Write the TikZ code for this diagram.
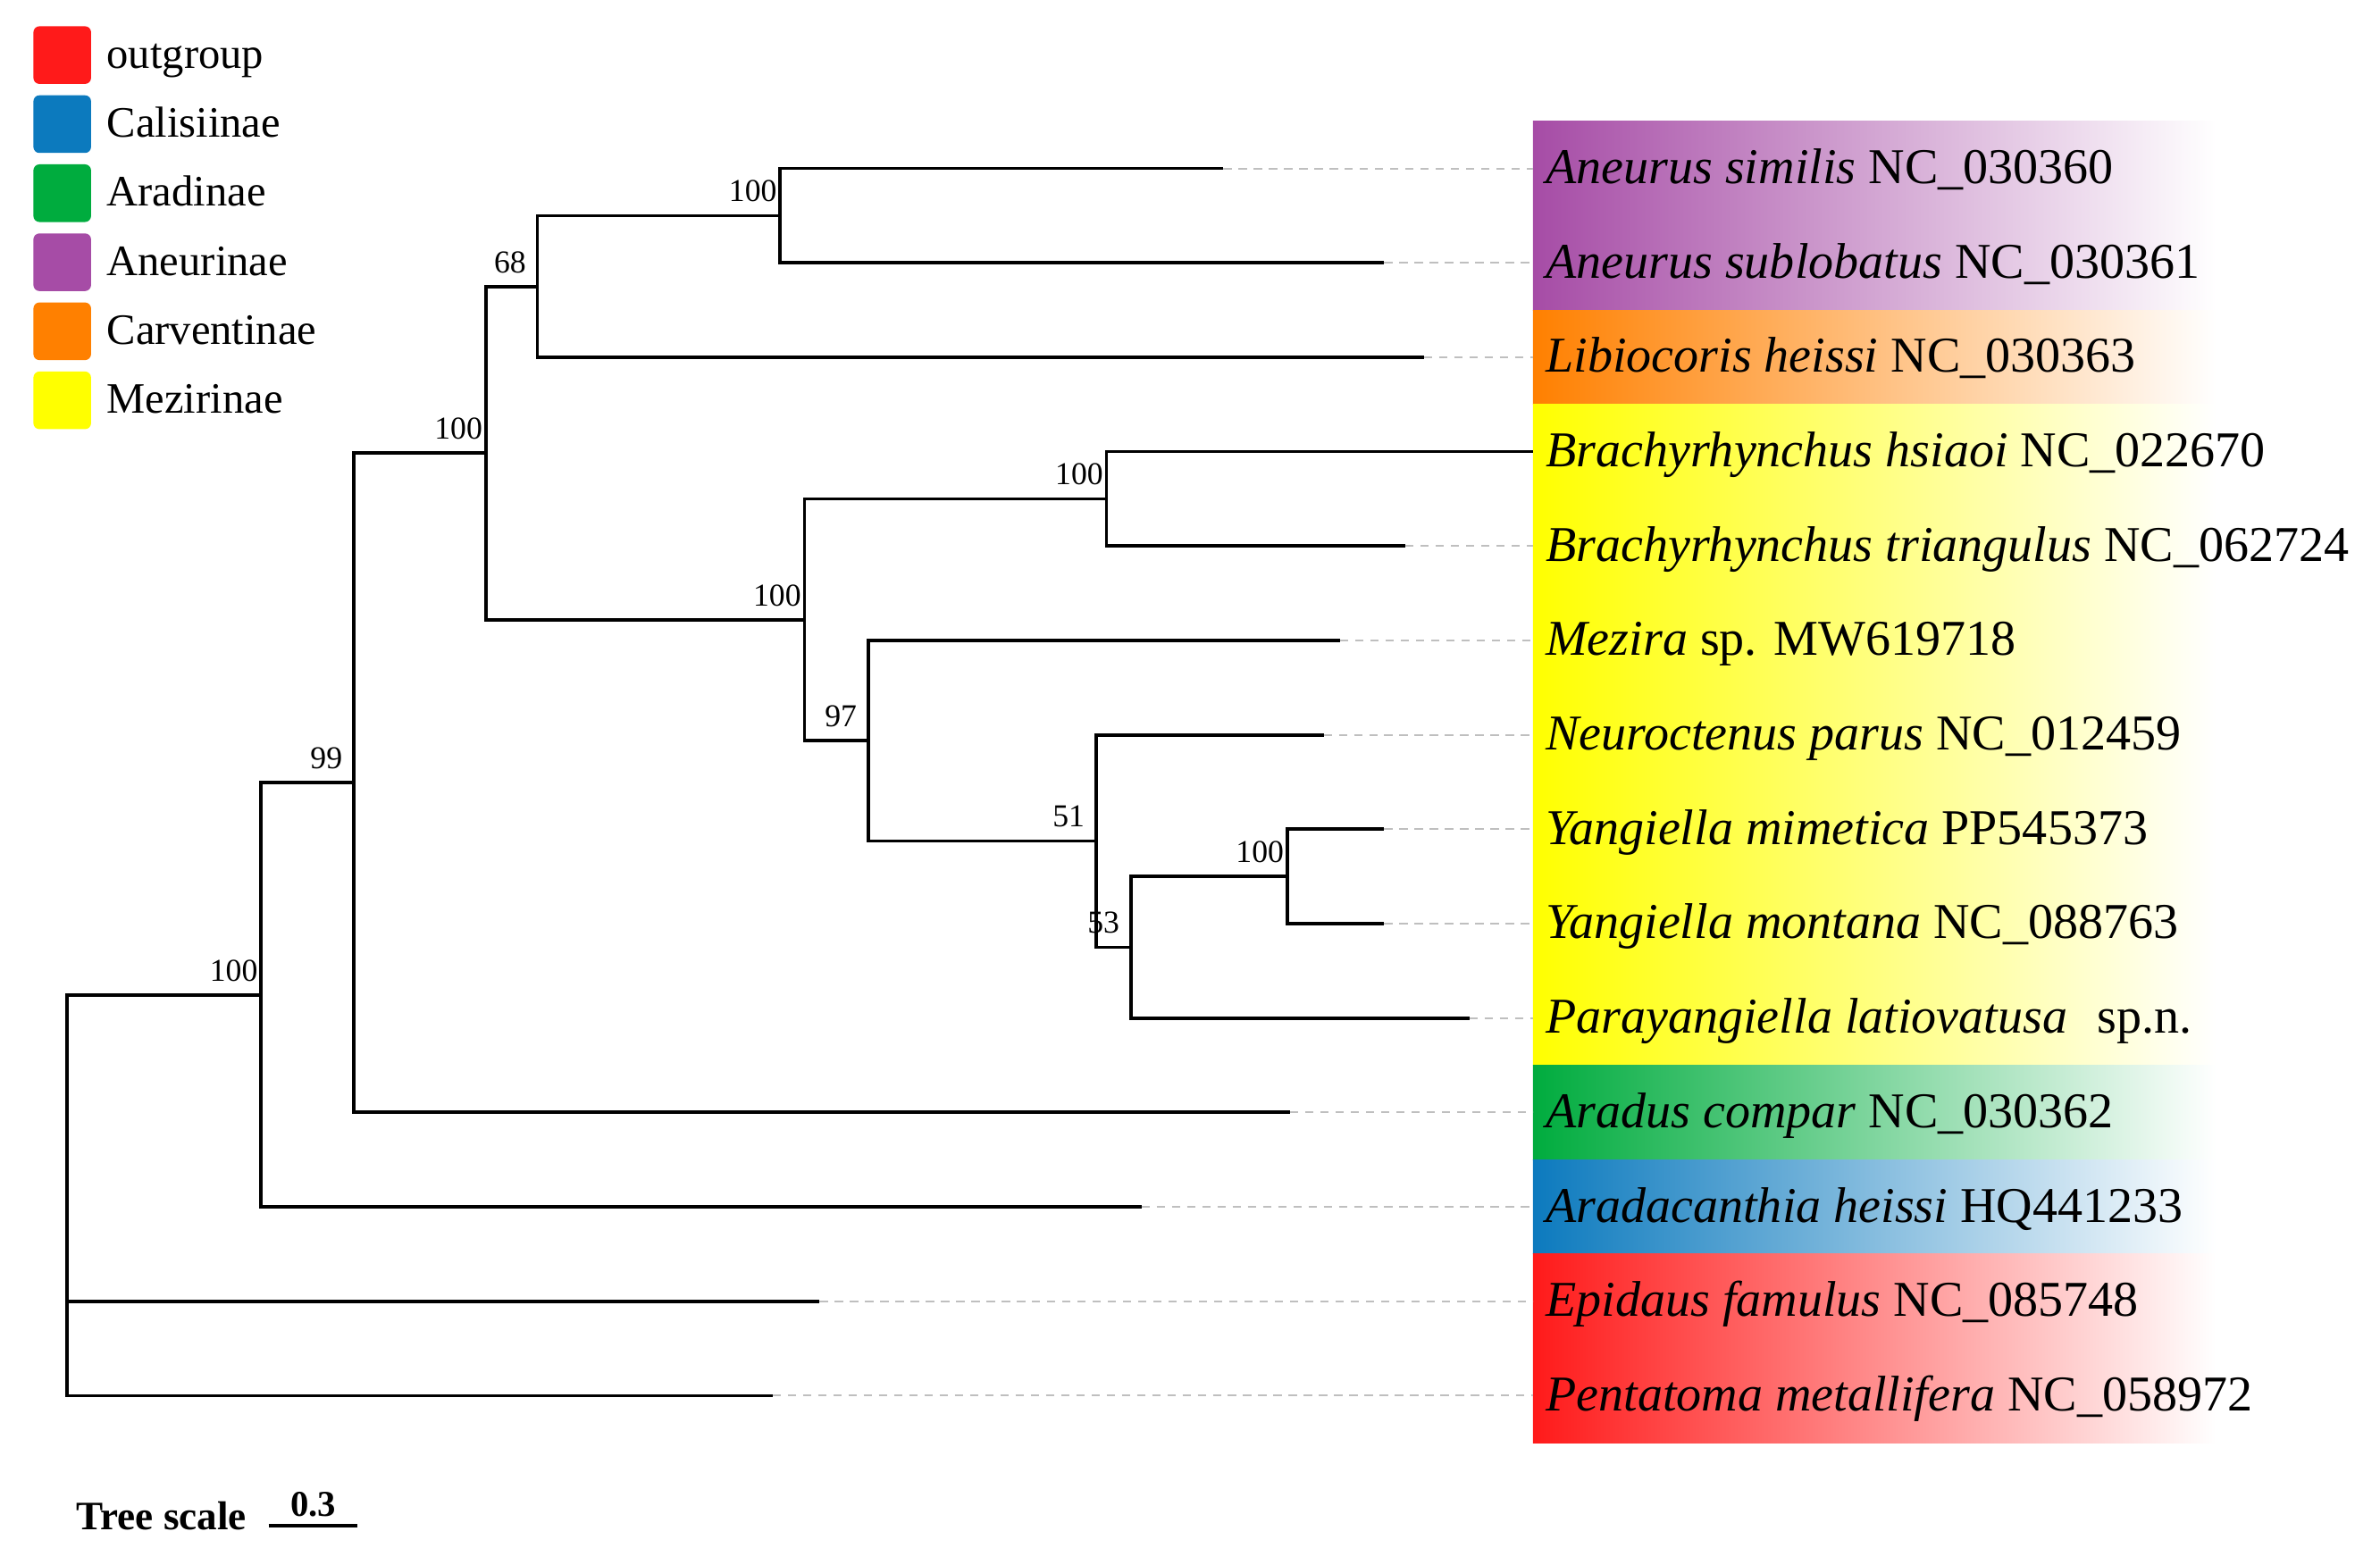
\documentclass[tikz,border=0pt]{standalone}
\usepackage{fontspec}
\setmainfont{Liberation Serif}
\usetikzlibrary{calc}
\definecolor{ogred}{RGB}{255,26,26}
\definecolor{calblue}{RGB}{12,122,190}
\definecolor{aragreen}{RGB}{0,172,62}
\definecolor{aneupurple}{RGB}{166,76,166}
\definecolor{carvorange}{RGB}{255,128,0}
\definecolor{mezyellow}{RGB}{255,255,0}
\begin{document}
\begin{tikzpicture}[x=0.5pt,y=-0.5pt,
  branch/.style={line width=1.1pt, line join=miter},
  leader/.style={draw=black!25, line width=0.55pt, dash pattern=on 2.7pt off 2.3pt},
  taxon/.style={anchor=base west, inner sep=0pt, font=\fontsize{16.5}{18}\selectfont},
  bs/.style={inner sep=0pt, font=\fontsize{10.5}{12}\selectfont},
  legsq/.style={rounded corners=2pt, minimum size=19pt, inner sep=0pt},
  legtext/.style={anchor=base west, inner sep=0pt, font=\fontsize{14.3}{16}\selectfont},
  band/.style={right color=white}
]
\useasboundingbox (0,0) rectangle (1568,1031);

% ---------- coloured bands ----------
\shade[left color=aneupurple, band] (1010,79.9) rectangle (1460,204.3);
\shade[left color=carvorange, band] (1010,204.3) rectangle (1460,266.5);
\shade[left color=mezyellow, band] (1010,266.5) rectangle (1460,701.9);
\shade[left color=aragreen, band] (1010,701.9) rectangle (1460,764.1);
\shade[left color=calblue, band] (1010,764.1) rectangle (1460,826.3);
\shade[left color=ogred, band] (1010,826.3) rectangle (1460,950.7);

% ---------- legend ----------
\node[legsq, fill=ogred] (sq1) at (41,36.3) {};
\node[legsq, fill=calblue] (sq2) at (41,81.8) {};
\node[legsq, fill=aragreen] (sq3) at (41,127.3) {};
\node[legsq, fill=aneupurple] (sq4) at (41,172.8) {};
\node[legsq, fill=carvorange] (sq5) at (41,218.3) {};
\node[legsq, fill=mezyellow] (sq6) at (41,263.8) {};
\node[legtext] (lt1) at (70,44.8) {outgroup};
\node[legtext] (lt2) at (70,90.3) {Calisiinae};
\node[legtext] (lt3) at (70,135.8) {Aradinae};
\node[legtext] (lt4) at (70,181.3) {Aneurinae};
\node[legtext] (lt5) at (70,226.8) {Carventinae};
\node[legtext] (lt6) at (70,272.3) {Mezirinae};

% ---------- tree coordinates ----------
\coordinate (root) at (44,700);
\coordinate (nB) at (172,655.5);
\coordinate (nC) at (233,515.8);
\coordinate (nD) at (320,298.6);
\coordinate (nE) at (354,188.8);
\coordinate (nG) at (514,142.1);
\coordinate (nF) at (530,408.4);
\coordinate (nH) at (729,328.7);
\coordinate (nI) at (572,488.1);
\coordinate (nJ) at (722,554.2);
\coordinate (nK) at (745,624.2);
\coordinate (nL) at (848,577.5);

\coordinate (t1) at (806,111);
\coordinate (t2) at (912,173.2);
\coordinate (t3) at (938,235.4);
\coordinate (t4) at (1010,297.6);
\coordinate (t5) at (926,359.8);
\coordinate (t6) at (883,422);
\coordinate (t7) at (872,484.2);
\coordinate (t8) at (912,546.4);
\coordinate (t9) at (912,608.6);
\coordinate (t10) at (968,670.8);
\coordinate (t11) at (850,733);
\coordinate (t12) at (752,795.2);
\coordinate (t13) at (540,857.4);
\coordinate (t14) at (509,919.6);

% label anchors at the band edge
\foreach \i in {1,...,14} {\coordinate (e\i) at (1010,0 |- t\i);}

% ---------- leaders ----------
\foreach \i in {1,2,3,5,6,7,8,9,10,11,12,13,14} {\draw[leader] (t\i) -- (e\i);}

% ---------- branches ----------
\draw[branch] (root) |- (nB);
\draw[branch] (root) |- (t13);
\draw[branch] (root) |- (t14);
\draw[branch] (nB) |- (nC);
\draw[branch] (nB) |- (t12);
\draw[branch] (nC) |- (nD);
\draw[branch] (nC) |- (t11);
\draw[branch] (nD) |- (nE);
\draw[branch] (nD) |- (nF);
\draw[branch] (nE) |- (nG);
\draw[branch] (nE) |- (t3);
\draw[branch] (nG) |- (t1);
\draw[branch] (nG) |- (t2);
\draw[branch] (nF) |- (nH);
\draw[branch] (nF) |- (nI);
\draw[branch] (nH) |- (t4);
\draw[branch] (nH) |- (t5);
\draw[branch] (nI) |- (t6);
\draw[branch] (nI) |- (nJ);
\draw[branch] (nJ) |- (t7);
\draw[branch] (nJ) |- (nK);
\draw[branch] (nK) |- (nL);
\draw[branch] (nK) |- (t10);
\draw[branch] (nL) |- (t8);
\draw[branch] (nL) |- (t9);

% ---------- bootstrap values ----------
\node[bs] (bB) at ($(nB)+(-18,-16)$) {100};
\node[bs] (bC) at ($(nC)+(-18,-16)$) {99};
\node[bs] (bD) at ($(nD)+(-18,-16)$) {100};
\node[bs] (bE) at ($(nE)+(-18,-16)$) {68};
\node[bs] (bG) at ($(nG)+(-18,-16)$) {100};
\node[bs] (bF) at ($(nF)+(-18,-16)$) {100};
\node[bs] (bH) at ($(nH)+(-18,-16)$) {100};
\node[bs] (bI) at ($(nI)+(-18,-16)$) {97};
\node[bs] (bJ) at ($(nJ)+(-18,-16)$) {51};
\node[bs] (bK) at ($(nK)+(-18,-16)$) {53};
\node[bs] (bL) at ($(nL)+(-18,-16)$) {100};

% ---------- taxon labels ----------
\node[taxon] (l1) at ($(e1)+(8,10)$) {\textit{Aneurus similis} NC\_030360};
\node[taxon] (l2) at ($(e2)+(8,10)$) {\textit{Aneurus sublobatus} NC\_030361};
\node[taxon] (l3) at ($(e3)+(8,10)$) {\textit{Libiocoris heissi} NC\_030363};
\node[taxon] (l4) at ($(e4)+(8,10)$) {\textit{Brachyrhynchus hsiaoi} NC\_022670};
\node[taxon] (l5) at ($(e5)+(8,10)$) {\textit{Brachyrhynchus triangulus} NC\_062724};
\node[taxon] (l6) at ($(e6)+(8,10)$) {\textit{Mezira} sp. MW619718};
\node[taxon] (l7) at ($(e7)+(8,10)$) {\textit{Neuroctenus parus} NC\_012459};
\node[taxon] (l8) at ($(e8)+(8,10)$) {\textit{Yangiella mimetica} PP545373};
\node[taxon] (l9) at ($(e9)+(8,10)$) {\textit{Yangiella montana} NC\_088763};
\node[taxon] (l10) at ($(e10)+(8,10)$) {\textit{Parayangiella latiovatusa}\hspace{0.6em}sp.n.};
\node[taxon] (l11) at ($(e11)+(8,10)$) {\textit{Aradus compar} NC\_030362};
\node[taxon] (l12) at ($(e12)+(8,10)$) {\textit{Aradacanthia heissi} HQ441233};
\node[taxon] (l13) at ($(e13)+(8,10)$) {\textit{Epidaus famulus} NC\_085748};
\node[taxon] (l14) at ($(e14)+(8,10)$) {\textit{Pentatoma metallifera} NC\_058972};

% ---------- tree scale ----------
\node[anchor=base west, inner sep=0pt, font=\bfseries\fontsize{13.3}{15}\selectfont] (ts) at (50,1008) {Tree scale};
\coordinate (sb1) at (177,1005.5);
\coordinate (sb2) at (235.6,1005.5);
\draw[line width=1.2pt] (sb1) -- (sb2);
\node[anchor=base, inner sep=0pt, font=\bfseries\fontsize{12}{14}\selectfont] (sbl) at ($(sb1)!0.5!(sb2)+(0,-6.5)$) {0.3};
\end{tikzpicture}
\end{document}
